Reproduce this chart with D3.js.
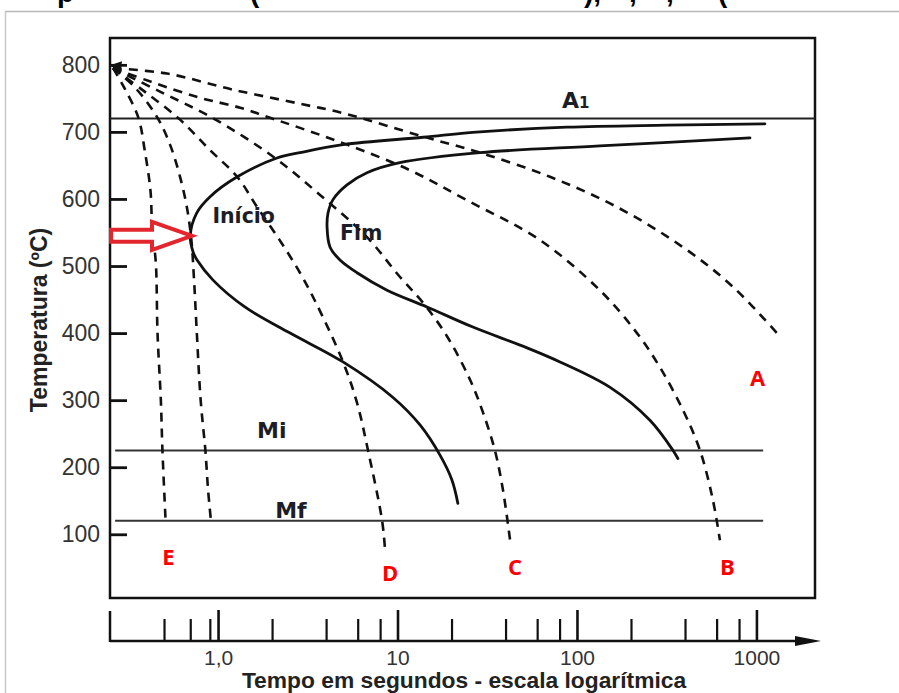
<!DOCTYPE html>
<html><head><meta charset="utf-8">
<script src="https://cdn.jsdelivr.net/npm/d3@7"></script>
<style>
html,body{margin:0;padding:0;background:#fff;}
svg{display:block;}
</style></head>
<body>
<svg id="chart" width="899" height="693"></svg>
<script>
// ---------- DATA (time in s, temperature in °C) ----------
const tempTicks = [100, 200, 300, 400, 500, 600, 700, 800];
const timeMajorTicks = [1, 10, 100, 1000];
const timeMajorLabels = ["1,0", "10", "100", "1000"];
const timeMinorTicks = [0.5, 0.7, 0.9, 2, 4, 6, 8, 20, 40, 60, 80, 200, 400, 600, 800];

const A1 = 720, Mi = 225, Mf = 120;
const martensiteSpan = [0.267, 1090];

const inicio = [[1115,712],[317,710],[88,707],[28.8,700],[13.9,692],[4.97,681],[2.86,669],[2.13,661],[1.28,633],
  [0.9,603],[0.76,579],[0.70,545],[0.726,521],[0.764,509],[0.938,479],[1.41,439],[2.52,400],[4.97,357],
  [9.44,304],[13.35,263],[17.25,218],[20.1,181],[21.7,146]];
const fim = [[920,691],[134,679],[28.8,669],[10.3,654],[6.76,639],[5.23,621],[4.37,599],[4.10,579],
  [4.05,558],[4.21,528],[4.78,509],[5.95,490],[8.74,464],[14.6,439],[26.3,409],[52.7,378],[80.4,357],
  [153,319],[255,270],[343,225],[365,213]];

const curveE = [[0.26,795],[0.30,766],[0.36,721],[0.39,673],[0.42,613],[0.43,554],[0.45,505],[0.46,400],
  [0.48,300],[0.49,225],[0.51,121]];
const curveCrit = [[0.26,795],[0.345,766],[0.46,721],[0.54,681],[0.61,636],[0.67,588],[0.71,539],
  [0.735,479],[0.76,405],[0.80,300],[0.85,225],[0.88,166],[0.91,124]];
const curveD = [[0.26,795],[0.39,760],[0.61,719],[0.90,673],[1.28,633],[1.65,588],[2.2,539],[2.86,490],
  [3.56,442],[4.97,357],[5.95,296],[6.85,225],[8.2,121],[8.5,81]];
const curveC = [[0.26,795],[0.475,760],[0.93,721],[2.03,663],[3.7,606],[6.76,543],[10.3,484],[13.9,445],
  [18.9,395],[25.4,330],[30,281],[34.9,225],[38.7,166],[42.4,91]];
const curveB = [[0.26,795],[0.42,775],[0.79,751],[1.33,736],[1.95,721],[2.86,706],[5.23,681],[11.7,643],
  [24.4,598],[62,539],[134,464],[216,400],[290,349],[390,285],[485,225],[572,151],[626,91]];
const curveA = [[0.26,795],[0.52,787],[1.21,763],[2.86,742],[4.97,728],[13.9,693],[28.8,669],[70.7,633],
  [167,588],[390,528],[740,469],[1301,400]];

const phaseLabels = [
  {text:"Início", t:0.93, T:564},
  {text:"Fim", t:4.78, T:539}
];
const lineLabels = [
  {text:"Mi", t:1.65, T:243},
  {text:"Mf", t:2.08, T:124}
];
const a1Label = {t:82.5};
const curveLabels = [
  {text:"E", t:0.488, T:54},
  {text:"D", t:8.2, T:31},
  {text:"C", t:41.3, T:39},
  {text:"B", t:626, T:39},
  {text:"A", t:920, T:321}
];
const arrowTip = [0.716, 545];
const startPoint = [0.26, 795];
const headingGlyphs = [["p",57],["(",250],["),",584],[",",629],[",",666],["(",718]];

// ---------- SCALES ----------
const svg = d3.select("#chart");
const x = d3.scaleLog().domain([0.25, 2120]).range([110, 815]);
const y = d3.scaleLinear().domain([5, 840]).range([598, 38]);
const X0 = x.range()[0], X1 = x.range()[1], Y0 = y.range()[0], Y1 = y.range()[1];

// ---------- page frame (slide border) ----------
svg.append("line").attr("x1",5).attr("x2",899).attr("y1",11.5).attr("y2",11.5)
  .attr("stroke","#b8b8b8").attr("stroke-width",1.5);
svg.append("line").attr("x1",5.5).attr("x2",5.5).attr("y1",11).attr("y2",693)
  .attr("stroke","#c8c8c8").attr("stroke-width",1.5);

const headG = svg.append("g").attr("font-family","Liberation Sans, Arial, sans-serif")
  .attr("font-weight","bold").attr("font-size",28).attr("fill","#000");
headingGlyphs.forEach(d=>headG.append("text").attr("x",d[1]).attr("y",2).text(d[0]));

// ---------- plot frame ----------
svg.append("rect").attr("x",X0).attr("y",Y1).attr("width",X1-X0).attr("height",Y0-Y1)
  .attr("fill","none").attr("stroke","#111").attr("stroke-width",2.5);

svg.append("line").attr("x1",X0).attr("x2",X1).attr("y1",y(A1)).attr("y2",y(A1))
  .attr("stroke","#222").attr("stroke-width",2);
[Mi, Mf].forEach(v=>{
  svg.append("line").attr("x1",x(martensiteSpan[0])).attr("x2",x(martensiteSpan[1]))
    .attr("y1",y(v)).attr("y2",y(v)).attr("stroke","#333").attr("stroke-width",2);
});

// ---------- Y axis ----------
const yAxis = d3.axisLeft(y).tickValues(tempTicks).tickSize(-17).tickPadding(10).tickFormat(d3.format("d"));
const gy = svg.append("g").attr("transform",`translate(${X0},0)`).call(yAxis);
gy.select(".domain").remove();
gy.selectAll(".tick line").attr("stroke","#111").attr("stroke-width",2.8);
gy.selectAll(".tick text").attr("font-family","Liberation Sans, Arial, sans-serif")
  .attr("font-size",23).attr("fill","#333");

// ---------- X axis ----------
const axisY = 641;
const gxMinor = svg.append("g").attr("transform",`translate(0,${axisY})`)
  .call(d3.axisBottom(x).tickValues(timeMinorTicks).tickSize(-22).tickFormat(""));
gxMinor.select(".domain").remove();
gxMinor.selectAll(".tick line").attr("stroke","#111").attr("stroke-width",2.2);
const gx = svg.append("g").attr("transform",`translate(0,${axisY})`)
  .call(d3.axisBottom(x).tickValues(timeMajorTicks).tickSize(-31).tickPadding(9)
    .tickFormat((d,i)=>timeMajorLabels[i]));
gx.select(".domain").remove();
gx.selectAll(".tick line").attr("stroke","#111").attr("stroke-width",2.6);
gx.selectAll(".tick text").attr("font-family","Liberation Sans, Arial, sans-serif")
  .attr("font-size",21).attr("fill","#333");
svg.append("line").attr("x1",X0).attr("x2",800).attr("y1",axisY).attr("y2",axisY)
  .attr("stroke","#111").attr("stroke-width",2.5);
svg.append("line").attr("x1",X0).attr("x2",X0).attr("y1",axisY+1).attr("y2",axisY-30)
  .attr("stroke","#111").attr("stroke-width",2.5);
svg.append("path").attr("d",`M795,${axisY-5}L821,${axisY}L795,${axisY+5}Z`).attr("fill","#111");

svg.append("text").attr("x",464).attr("y",688).attr("text-anchor","middle")
  .attr("font-family","Liberation Sans, Arial, sans-serif").attr("font-weight","bold")
  .attr("font-size",22.8).attr("fill","#222").text("Tempo em segundos - escala logarítmica");
svg.append("text").attr("transform","translate(47,320) rotate(-90)").attr("text-anchor","middle")
  .attr("font-family","Liberation Sans, Arial, sans-serif").attr("font-weight","bold")
  .attr("font-size",23).attr("fill","#222").text("Temperatura (ºC)");

// ---------- curves ----------
const line = d3.line().x(d=>x(d[0])).y(d=>y(d[1])).curve(d3.curveCatmullRom.alpha(0.5));
[curveE, curveCrit, curveD, curveC, curveB, curveA].forEach(c=>{
  svg.append("path").attr("d",line(c)).attr("fill","none").attr("stroke","#111")
    .attr("stroke-width",2.6).attr("stroke-dasharray","9,7");
});
[inicio, fim].forEach(c=>{
  svg.append("path").attr("d",line(c)).attr("fill","none").attr("stroke","#111")
    .attr("stroke-width",2.8).attr("stroke-linecap","round");
});

const sp = [x(startPoint[0]), y(startPoint[1])];
svg.append("path").attr("d",`M${sp[0]-3},${sp[1]-3}L${sp[0]+9},${sp[1]-7}L${sp[0]+7},${sp[1]+5}Z`).attr("fill","#111");

// ---------- labels ----------
const lab = svg.append("g").attr("font-family","DejaVu Sans, sans-serif").attr("font-weight","bold").attr("fill","#1d1d28");
phaseLabels.forEach(d=>lab.append("text").attr("x",x(d.t)).attr("y",y(d.T)).attr("font-size",20.5).text(d.text));
lineLabels.forEach(d=>lab.append("text").attr("x",x(d.t)).attr("y",y(d.T)).attr("font-size",22).text(d.text));
const a1 = lab.append("text").attr("x",x(a1Label.t)).attr("y",y(A1)-10).attr("font-size",22);
a1.append("tspan").text("A");
a1.append("tspan").attr("font-size",15).text("1");

const red = svg.append("g").attr("font-family","Open Sans, Liberation Sans, sans-serif").attr("font-weight","bold").attr("fill","#f00");
curveLabels.forEach(d=>red.append("text").attr("x",x(d.t)).attr("y",y(d.T)).attr("font-size",22).text(d.text));

const at = [x(arrowTip[0]), y(arrowTip[1])];
svg.append("path")
  .attr("d",`M${at[0]},${at[1]}L${at[0]-40},${at[1]-14}L${at[0]-40},${at[1]-6}L${X0+1},${at[1]-6}L${X0+1},${at[1]+6}L${at[0]-40},${at[1]+6}L${at[0]-40},${at[1]+14}Z`)
  .attr("fill","#fff").attr("stroke","#e3262e").attr("stroke-width",4).attr("stroke-linejoin","miter");
</script>
</body></html>
